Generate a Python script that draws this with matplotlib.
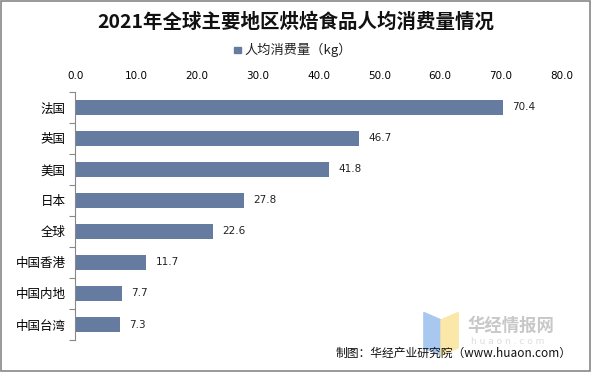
import matplotlib.pyplot as plt
from matplotlib.patches import Polygon, Rectangle

plt.rcParams['font.family'] = ['Noto Sans CJK SC', 'DejaVu Sans']

regions = ['法国', '英国', '美国', '日本', '全球', '中国香港', '中国内地', '中国台湾']
values = [70.4, 46.7, 41.8, 27.8, 22.6, 11.7, 7.7, 7.3]
xticks = [0, 10, 20, 30, 40, 50, 60, 70, 80]

fig = plt.figure(figsize=(5.92, 3.72), dpi=100)
ax = fig.add_axes([0.127, 0.086, 0.822, 0.667])

y = list(range(len(regions)))
ax.barh(y, values, height=0.47, color='#667ba0')
ax.set_ylim(len(regions) - 0.5, -0.5)
ax.set_xlim(0, 80)
for yi, v in zip(y, values):
    ax.text(v + 1.5, yi, f'{v:.1f}', va='center', ha='left', fontsize=7.5, color='#222222',
            family='DejaVu Sans')

ax.set_yticks([i - 0.5 for i in range(len(regions) + 1)], minor=False)
ax.set_yticklabels([])
ax.set_yticks(y, minor=True)
ax.set_yticklabels(regions, minor=True, fontsize=9)
ax.tick_params(axis='y', which='major', length=4, color='#888888', direction='out')
ax.tick_params(axis='y', which='minor', length=0, pad=7)

ax.xaxis.tick_top()
ax.set_xticks(xticks)
ax.set_xticklabels([f'{t:.1f}' for t in xticks], fontsize=7.5, family='DejaVu Sans')
ax.tick_params(axis='x', length=0, pad=8)

for s in ['top', 'right', 'bottom']:
    ax.spines[s].set_visible(False)
ax.spines['left'].set_color('#888888')

fig.text(0.5, 0.94, '2021年全球主要地区烘焙食品人均消费量情况', ha='center', va='center',
         fontsize=14, fontweight='bold', color='#111111')
fig.patches.append(Rectangle((0.396, 0.857), 0.011, 0.018, transform=fig.transFigure,
                             color='#667ba0'))
fig.text(0.413, 0.866, '人均消费量（kg）', ha='left', va='center', fontsize=9.5, color='#222222')

# watermark logo
fig.patches.append(Polygon([[0.716, 0.16], [0.745, 0.14], [0.745, 0.045], [0.716, 0.065]],
                           closed=True, transform=fig.transFigure, color='#a8c8f0'))
fig.patches.append(Polygon([[0.745, 0.14], [0.774, 0.16], [0.774, 0.065], [0.745, 0.045]],
                           closed=True, transform=fig.transFigure, color='#fbe8a8'))
fig.text(0.79, 0.125, '华经情报网', ha='left', va='center', fontsize=12.5, fontweight='bold',
         color='#c8c8c8')
fig.text(0.795, 0.082, 'h u a o n . c o m', ha='left', va='center', fontsize=6.5, color='#dddddd',
         family='DejaVu Sans')
fig.text(0.965, 0.05, '制图：华经产业研究院（www.huaon.com）', ha='right', va='center',
         fontsize=8.5, color='#111111')

fig.patches.append(Rectangle((0.002, 0.003), 0.995, 0.993, transform=fig.transFigure,
                             fill=False, edgecolor='#888888', linewidth=1.2))

fig.savefig('out.png', dpi=100)
